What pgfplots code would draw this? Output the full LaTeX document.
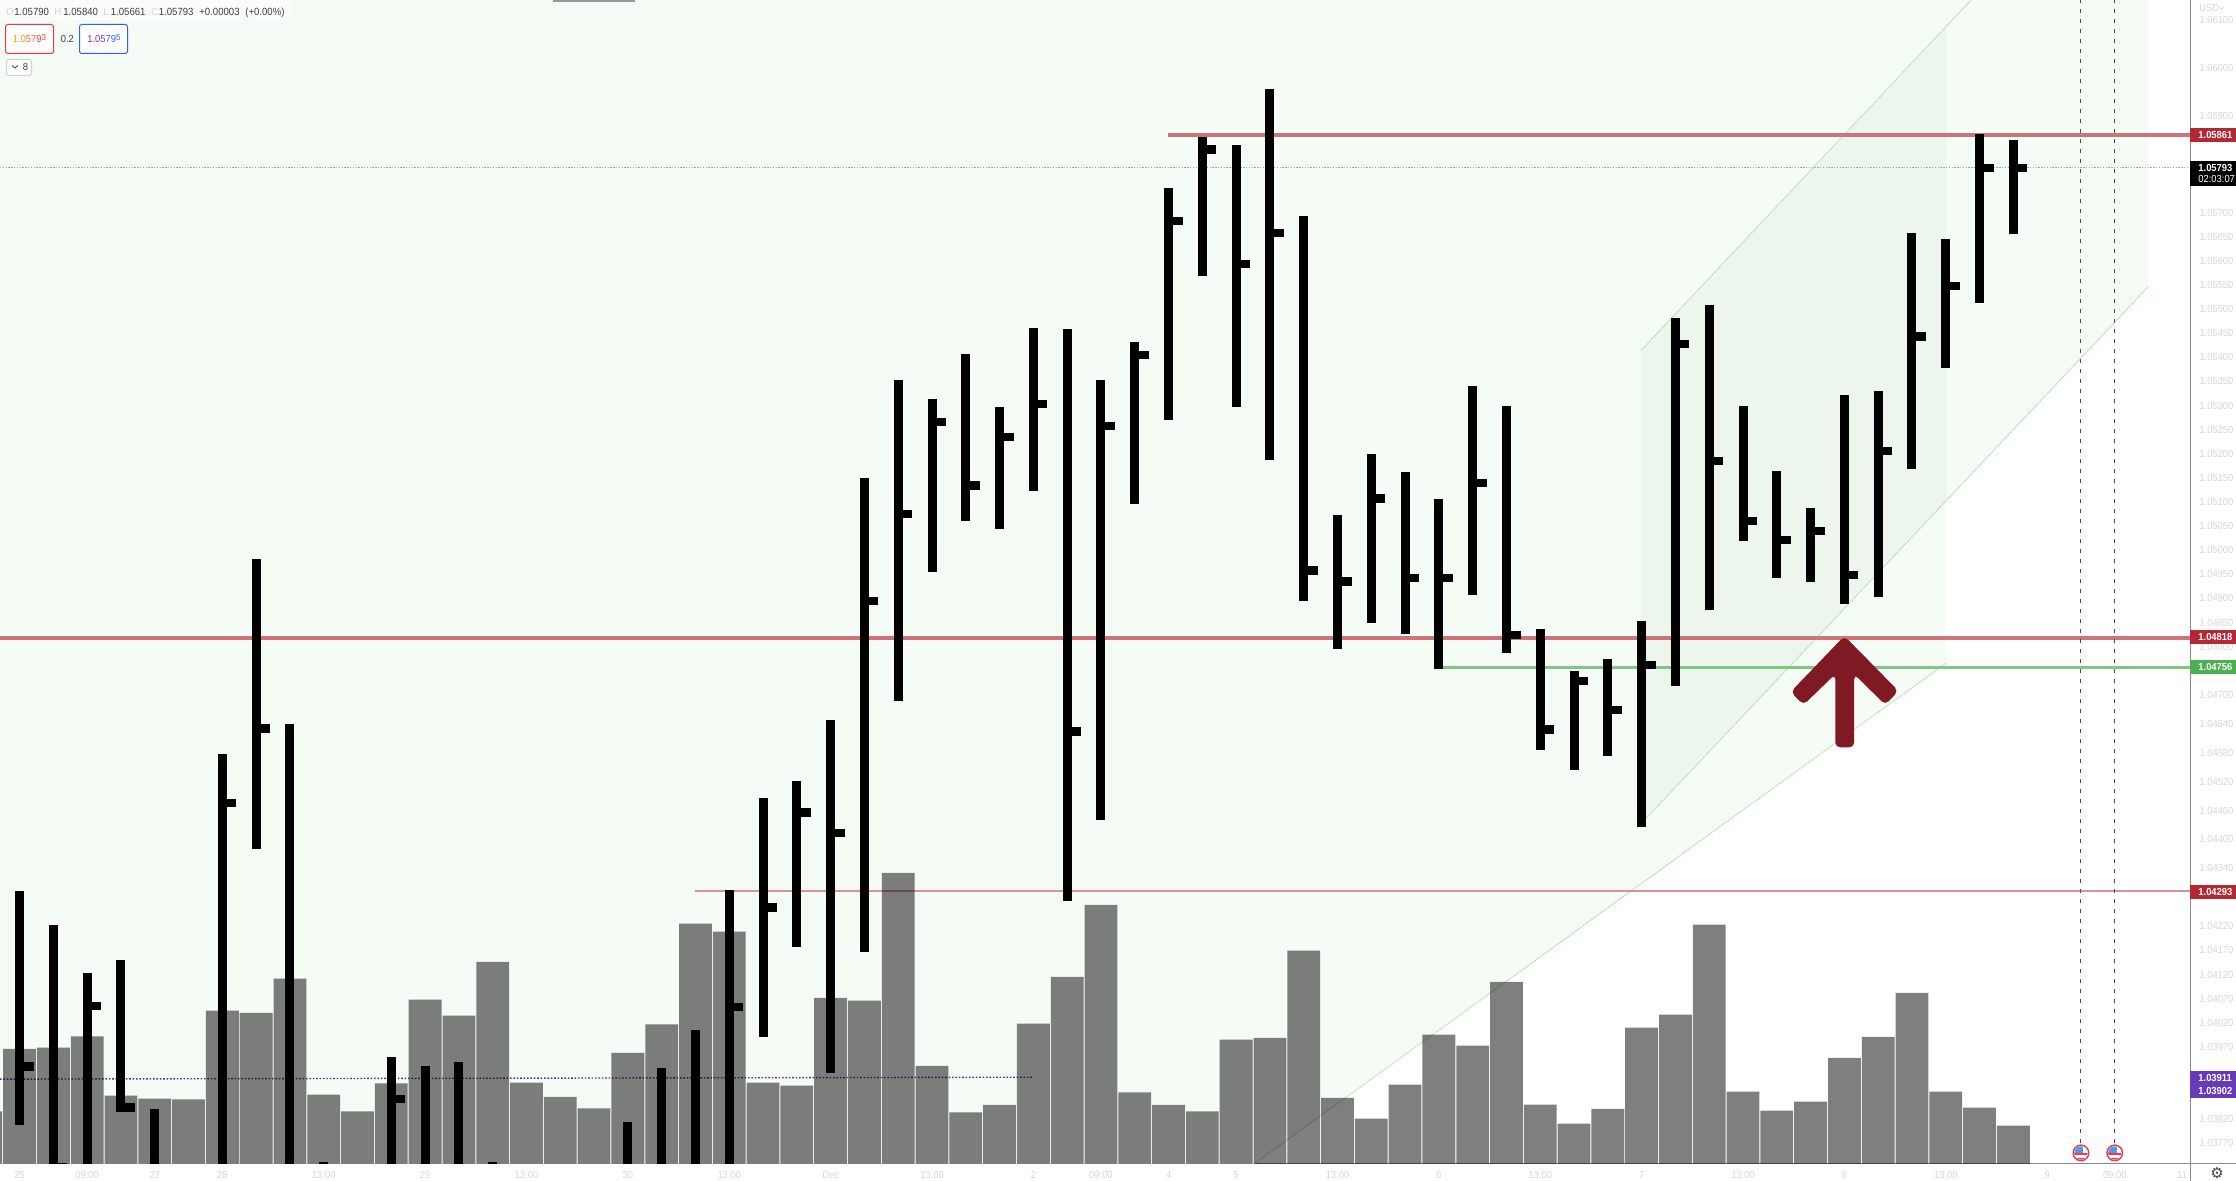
\documentclass[border=0pt]{standalone}
\usepackage{fontspec}
\usepackage{pgfplots}
\usepackage{pgfplotstable}
\pgfplotsset{compat=1.18}
\setmainfont{Liberation Sans}[FakeStretch=0.92]
\newfontfamily\dejavu{DejaVu Sans}

\definecolor{bgfan}{HTML}{F5FBF5}
\definecolor{bgfork}{HTML}{ECF6EC}
\definecolor{forkline}{HTML}{A8DAAB}
\definecolor{redline}{HTML}{CF737B}
\definecolor{redthin}{HTML}{D8929A}
\definecolor{greenline}{HTML}{80C783}
\definecolor{redbox}{HTML}{B22833}
\definecolor{greenbox}{HTML}{4CAF50}
\definecolor{purplebox}{HTML}{673AB7}
\definecolor{arrowred}{HTML}{7F1924}
\definecolor{axisgray}{HTML}{8A8A8A}
\definecolor{ticktext}{HTML}{D6D6D6}
\definecolor{flagred}{HTML}{F23645}
\definecolor{flagblue}{HTML}{4A9EE8}
\definecolor{askblue}{HTML}{2962FF}
\definecolor{orangeA}{HTML}{FF9800}
\definecolor{orangeB}{HTML}{F96A2F}
\definecolor{violetA}{HTML}{9C27B0}
\definecolor{violetB}{HTML}{6A45D8}
\definecolor{chipline}{HTML}{D0D3D8}

\pgfdeclareplotmark{usflag}{%
  \pgfsetfillcolor{white}\pgfpathcircle{\pgfpointorigin}{4.2pt}\pgfusepath{fill}
  \begin{pgfscope}
    \pgfpathcircle{\pgfpointorigin}{3.3pt}\pgfusepath{clip}
    \pgfsetfillcolor{flagred}
    \pgfpathrectangle{\pgfpoint{-4pt}{-1.1pt}}{\pgfpoint{8pt}{1.1pt}}\pgfusepath{fill}
    \pgfpathrectangle{\pgfpoint{-4pt}{-3.4pt}}{\pgfpoint{8pt}{0.9pt}}\pgfusepath{fill}
    \pgfsetfillcolor{flagblue}
    \pgfpathrectangle{\pgfpoint{-4pt}{0.2pt}}{\pgfpoint{5pt}{4pt}}\pgfusepath{fill}
  \end{pgfscope}
  \pgfsetstrokecolor{flagred}\pgfsetlinewidth{0.7pt}
  \pgfpathcircle{\pgfpointorigin}{3.9pt}\pgfusepath{stroke}
}

% i high low close (1.03700 = below the visible range)
\pgfplotstableread{
i high low close
0 1.04293 1.03808 1.03929
1 1.04223 1.03700 1.03721
2 1.04123 1.03700 1.04054
3 1.04151 1.03835 1.03844
4 1.03841 1.03700 1.03700
6 1.04577 1.03700 1.04476
7 1.04982 1.04380 1.04630
8 1.04639 1.03700 1.03700
9 1.03732 1.03700 1.03700
11 1.03949 1.03700 1.03861
12 1.03931 1.03700 1.03700
13 1.03939 1.03700 1.03700
14 1.03732 1.03700 1.03700
18 1.03815 1.03700 1.03700
19 1.03926 1.03700 1.03700
20 1.04004 1.03700 1.03700
21 1.04296 1.03700 1.04053
22 1.04485 1.03991 1.04259
23 1.04521 1.04178 1.04456
24 1.04648 1.03916 1.04413
25 1.05150 1.04167 1.04895
26 1.05352 1.04687 1.05075
27 1.05313 1.04955 1.05265
28 1.05406 1.05061 1.05134
29 1.05296 1.05044 1.05234
30 1.05461 1.05123 1.05303
31 1.05459 1.04273 1.04624
32 1.05352 1.04440 1.05258
33 1.05432 1.05096 1.05405
34 1.05752 1.05269 1.05682
35 1.05857 1.05568 1.05831
36 1.05840 1.05296 1.05594
37 1.05956 1.05187 1.05657
38 1.05694 1.04894 1.04958
39 1.05073 1.04796 1.04935
40 1.05199 1.04848 1.05107
41 1.05162 1.04826 1.04942
42 1.05107 1.04753 1.04943
43 1.05341 1.04908 1.05139
44 1.05298 1.04787 1.04824
45 1.04837 1.04585 1.04628
46 1.04750 1.04545 1.04729
47 1.04775 1.04573 1.04668
48 1.04853 1.04425 1.04762
49 1.05482 1.04719 1.05428
50 1.05508 1.04875 1.05185
51 1.05298 1.05020 1.05060
52 1.05164 1.04942 1.05021
53 1.05087 1.04933 1.05039
54 1.05322 1.04889 1.04948
55 1.05330 1.04902 1.05206
56 1.05658 1.05169 1.05443
57 1.05646 1.05378 1.05548
58 1.05863 1.05513 1.05792
59 1.05850 1.05655 1.05793
}\bars

\pgfplotstableread{
i vol
-1 52.7
0 115
1 116.3
2 127.7
3 68.3
4 65.3
5 64.7
6 153.3
7 151
8 185.3
9 69.3
10 52.7
11 80.7
12 164.3
13 148.3
14 202
15 81.3
16 67
17 55.7
18 111
19 139.7
20 240.3
21 232.3
22 81.3
23 78.3
24 166
25 163.3
26 291
27 98
28 51.7
29 59
30 140.3
31 187
32 259
33 71.7
34 59
35 52.7
36 124.3
37 126
38 213.3
39 66
40 45.3
41 79.3
42 129.3
43 118.3
44 182
45 59.3
46 40.3
47 55
48 136.3
49 149.3
50 239.3
51 72.3
52 53.3
53 62.3
54 106
55 127
56 171
57 72.3
58 56.3
59 38.3
}\volumes

\pgfplotsset{
  base/.style={scale only axis, width=1095pt, height=582pt, xmin=-0.58, xmax=64.23},
  pricey/.style={ymin=1.03727, ymax=1.06141},
  ticktxt/.style={font=\fontsize{5.1}{6}\selectfont, text=ticktext},
}

\begin{document}
\begin{tikzpicture}
\useasboundingbox (0,-8.5pt) rectangle (1118pt,582pt);

% backgrounds, levels, tick labels
\begin{axis}[base, pricey,
    axis x line=bottom, axis y line=right,
    axis line style={-, axisgray, line width=0.5pt},
    major tick length=0pt,
    scaled y ticks=false,
    xtick={0,2,4,6,9,12,15,18,21,24,27,30,32,34,36,39,42,45,48,51,54,57,60,62,64},
    xticklabels={25,09:00,27,28,13:00,29,13:00,30,13:00,Dec,13:00,2,09:00,4,5,13:00,6,13:00,7,13:00,8,13:00,9,09:00,11},
    xticklabel style={ticktxt, inner sep=0pt, anchor=base, yshift=-7.3pt},
    ytick={1.061,1.06,1.059,1.057,1.0565,1.056,1.0555,1.055,1.0545,1.054,1.0535,1.053,1.0525,1.052,1.0515,1.051,1.0505,1.05,1.0495,1.049,1.0485,1.048,1.047,1.0464,1.0458,1.0452,1.0446,1.044,1.0434,1.0422,1.0417,1.0412,1.0407,1.0402,1.0397,1.0382,1.0377},
    yticklabel style={ticktxt, inner sep=0pt, anchor=west, xshift=4.5pt,
      /pgf/number format/.cd, fixed, fixed zerofill, precision=5, 1000 sep={}, assume math mode=true},
  ]
  \addplot[fill=bgfan, draw=none] coordinates {(-0.58,1.06141) (62.99,1.06141) (62.99,1.05546) (57.01,1.05102) (57.01,1.04766) (36.53,1.03727) (-0.58,1.03727)};
  \addplot[fill=bgfork, draw=none] coordinates {(47.98,1.05414) (57.01,1.06083) (57.01,1.05102) (47.98,1.04434)};
  \addplot[forkline, line width=0.45pt, dash pattern=on 0.5pt off 0.35pt] coordinates {(47.98,1.05414) (57.75,1.06141)};
  \addplot[forkline, line width=0.45pt, dash pattern=on 0.5pt off 0.35pt] coordinates {(48.0,1.04434) (62.99,1.05546)};
  \addplot[forkline, line width=0.45pt, dash pattern=on 0.5pt off 0.35pt] coordinates {(36.53,1.03727) (57.01,1.04766)};
  \addplot[gray!70, line width=0.5pt, dash pattern=on 0.7pt off 0.7pt] coordinates {(-0.58,1.05793) (64.23,1.05793)};
  \addplot[redline, line width=1.9pt] coordinates {(33.98,1.05861) (64.23,1.05861)};
  \addplot[redline, line width=1.9pt] coordinates {(-0.58,1.04818) (64.23,1.04818)};
  \addplot[greenline, line width=1.4pt] coordinates {(42.1,1.04756) (64.23,1.04756)};
  \addplot[redthin, line width=1.1pt] coordinates {(20,1.04293) (64.23,1.04293)};
  \addplot[purplebox!85!black, line width=0.7pt, dash pattern=on 0.8pt off 0.9pt] coordinates {(-0.58,1.03903) (30,1.03907)};
  \addplot[black!70, line width=0.5pt, dash pattern=on 2.2pt off 2.8pt] coordinates {(61,1.0377) (61,1.06141)};
  \addplot[black!70, line width=0.5pt, dash pattern=on 2.2pt off 2.8pt] coordinates {(62,1.0377) (62,1.06141)};
  \addplot[only marks, mark=usflag] coordinates {(61,1.0375) (62,1.0375)};
\end{axis}

% volume
\begin{axis}[base, ymin=0, ymax=1164, axis lines=none, ybar, bar width=16.4pt, bar shift=0pt]
  \addplot[fill=black, fill opacity=0.5, draw=none] table[x=i, y=vol] {\volumes};
\end{axis}

% price bars and the arrow
\begin{axis}[base, pricey, axis lines=none]
  \addplot[black, mark=none, line width=4.5pt, line cap=butt,
      quiver={u=0, v=\thisrow{high}-\thisrow{low}}]
    table[x=i, y=low] {\bars};
  \addplot[black, mark=none, line width=4.1pt, line cap=butt,
      quiver={u=0.415, v=0}]
    table[x=i, y=close] {\bars};
  \addplot[fill=arrowred, draw=none, rounded corners=2.5pt] coordinates {
    (54.00,1.04591) (53.73,1.04591) (53.73,1.04743) (52.79,1.04679) (52.41,1.04706)
    (54.00,1.04822) (55.60,1.04708) (55.21,1.04679) (54.29,1.04743) (54.29,1.04591) (54.00,1.04591)};
\end{axis}

% platform furniture, placed in reference pixels
\begin{scope}[x=0.5pt, y=-0.5pt, yshift=582pt,
    every node/.style={inner sep=0pt, font=\fontsize{5.1}{6}\selectfont}]
  \draw[axisgray, line width=0.5pt] (2190,1164) -- (2236,1164);
  \draw[axisgray, line width=0.5pt] (2190,1164) -- (2190,1181);

  % price labels
  \foreach \top/\bot/\col/\txt in {128/142/redbox/1.05861, 630/644/redbox/1.04818, 660/674/greenbox/1.04756, 885/899/redbox/1.04293}{
    \fill[\col] (2190,\top) rectangle (2236,\bot);
    \node[text=white, anchor=west, font=\fontsize{5.1}{6}\selectfont\bfseries] at (2198,{(\top+\bot)/2}) {\txt};
  }
  \fill[black] (2190,161) rectangle (2236,186);
  \node[text=white, anchor=west, font=\fontsize{5.1}{6}\selectfont\bfseries] at (2198,168) {1.05793};
  \node[text=white, anchor=west] at (2198,179.5) {02:03:07};
  \fill[purplebox] (2190,1071) rectangle (2236,1098.5);
  \node[text=white, anchor=west, font=\fontsize{5.1}{6}\selectfont\bfseries] at (2198,1078) {1.03911};
  \node[text=white, anchor=west, font=\fontsize{5.1}{6}\selectfont\bfseries] at (2198,1091.5) {1.03902};

  \node[text=ticktext, anchor=west] at (2199,8) {USD};
  \draw[ticktext, line width=0.35pt] (2219.5,7) -- (2221.5,9) -- (2223.5,7);
  \node[text=black!75, font=\dejavu\fontsize{7.5}{8}\selectfont] at (2217,1173) {⚙};

  % top tab shadow
  \fill[black!40] (553,0) rectangle (635,2.5);

  % legend row
  \fill[white, opacity=0.45] (0,0) rectangle (289,20);
  \foreach \x/\col/\txt in {6/ticktext/O, 14/black!75/1.05790, 54/ticktext/H, 63/black!75/1.05840,
      103/ticktext/L, 110.5/black!75/1.05661, 151/ticktext/C, 158.5/black!75/1.05793,
      199/black!75/+0.00003}{
    \node[text=\col, anchor=base west, font=\fontsize{5.2}{6}\selectfont] at (\x,16) {\txt};
  }
  \node[text=black!75, anchor=base west, font=\fontsize{5.2}{6}\selectfont] at (245,16) {(+0.00\%)};

  % bid and ask boxes
  \draw[flagred, fill=white, line width=0.5pt, rounded corners=1.2pt] (5.5,24.5) rectangle (53.5,53.5);
  \draw[askblue, fill=white, line width=0.5pt, rounded corners=1.2pt] (79.5,24.5) rectangle (127.5,53.5);
  \node[anchor=base west] at (12.5,43) {\textcolor{orangeA}{1.0}\textcolor{orangeB}{57}\textcolor{flagred}{9\raisebox{1.3pt}{\fontsize{4.4}{5}\selectfont 3}}};
  \node[anchor=base west] at (87,43) {\textcolor{violetA}{1.0}\textcolor{violetB}{57}\textcolor{askblue}{9\raisebox{1.3pt}{\fontsize{4.4}{5}\selectfont 5}}};
  \node[text=black!75, anchor=base west] at (60.5,42.5) {0.2};
  \draw[chipline, fill=white, line width=0.5pt, rounded corners=1.2pt] (6.5,59.5) rectangle (31.5,75.5);
  \draw[black!75, line width=0.4pt] (12,65.5) -- (15,68) -- (18,65.5);
  \node[text=black!75, anchor=base west] at (22.5,71) {8};
\end{scope}
\end{tikzpicture}
\end{document}
